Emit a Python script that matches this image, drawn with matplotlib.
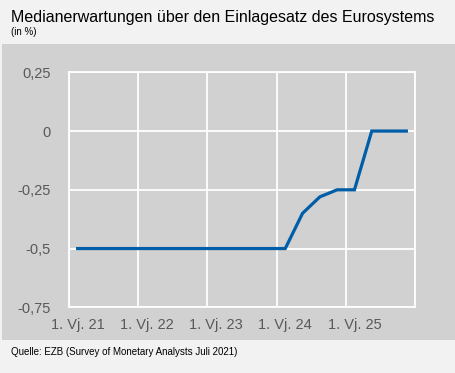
import numpy as np
import matplotlib.pyplot as plt
from matplotlib.patches import Rectangle

plt.rcParams['font.family'] = ['Liberation Sans', 'DejaVu Sans']

# Daten: Quartale 1. Vj. 21 bis 4. Vj. 25
quartale = ["%d. Vj. %d" % (q, j) for j in range(21, 26) for q in range(1, 5)]
median = [-0.5, -0.5, -0.5, -0.5,
          -0.5, -0.5, -0.5, -0.5,
          -0.5, -0.5, -0.5, -0.5,
          -0.5, -0.35, -0.28, -0.25,
          -0.25, 0.0, 0.0, 0.0]
y_ticks = [0.25, 0.0, -0.25, -0.5, -0.75]
y_labels = ["0,25", "0", "-0,25", "-0,5", "-0,75"]
x_labels = ["1. Vj. 21", "1. Vj. 22", "1. Vj. 23", "1. Vj. 24", "1. Vj. 25"]

W, H = 456, 373
fig = plt.figure(figsize=(W / 100, H / 100), dpi=100)
fig.patch.set_facecolor("#f2f2f2")

# grauer Hintergrund des Diagrammbereichs
fig.patches.append(Rectangle((2 / W, 1 - 340 / H), 453 / W, 296 / H,
                             transform=fig.transFigure, facecolor="#d1d1d1",
                             edgecolor="none", zorder=-5))

ax = fig.add_axes([69 / W, 1 - 307.3 / H, 346 / W, 235 / H])
ax.set_zorder(2)
ax.set_facecolor("#d1d1d1")

x = np.arange(len(median)) + 0.5
ax.plot(x, median, color="#005ea8", linewidth=2.3, solid_joinstyle="miter", zorder=3)

ax.set_xlim(0, 20)
ax.set_ylim(-0.75, 0.25)

ax.set_yticks(y_ticks)
ax.set_yticklabels(y_labels)
ax.set_xticks(np.arange(0, 20, 4) + 0.5)
ax.set_xticklabels(x_labels)
ax.set_xticks(np.arange(0, 21, 4), minor=True)

ax.tick_params(axis="both", which="both", length=0, labelsize=10.5, colors="#595959")
ax.tick_params(axis="y", pad=13)
ax.tick_params(axis="x", pad=8)

ax.grid(axis="y", which="major", color="white", linewidth=1.3)
ax.grid(axis="x", which="minor", color="white", linewidth=1.3)
ax.set_axisbelow(True)
for s in ax.spines.values():
    s.set_color("white")
    s.set_linewidth(1.3)

# Texte
fig.text(11 / W, 1 - 22 / H, "Medianerwartungen über den Einlagesatz des Eurosystems",
         fontsize=11.5, color="black", va="baseline")
fig.text(11 / W, 1 - 35 / H, "(in %)", fontsize=7, color="black", va="baseline")
fig.text(11 / W, 1 - 355 / H, "Quelle: EZB (Survey of Monetary Analysts Juli 2021)",
         fontsize=7, color="black", va="baseline")

fig.savefig("out.png", dpi=100, facecolor=fig.get_facecolor())
